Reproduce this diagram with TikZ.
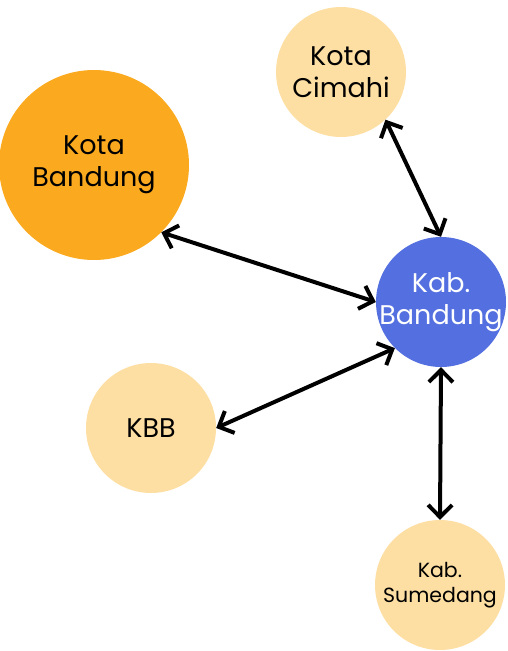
\documentclass[tikz,border=0pt]{standalone}
\usepackage{fontspec}
\setmainfont{Poppins}
\usetikzlibrary{arrows.meta, positioning}
\definecolor{lightorange}{HTML}{FDDFA4}
\definecolor{darkorange}{HTML}{FBAA1F}
\definecolor{kabblue}{HTML}{5470E0}
\begin{document}
\begin{tikzpicture}[x=1pt, y=-1pt,
    region/.style={circle, fill=lightorange, minimum size=130pt, inner sep=-8pt, align=center, font=\fontsize{27}{32}\selectfont},
    link/.style={{Straight Barb[length=12pt, width=24pt]}-{Straight Barb[length=12pt, width=24pt]}, line width=4pt}]
          \useasboundingbox (0,0) rectangle (507,651);
          \node[region] (cimahi) at (341,72) {Kota\\Cimahi};
          \node[region, fill=darkorange, minimum size=190pt] (kotabdg) at (94,165) {Kota\\Bandung};
          \node[region, fill=kabblue, text=white] (kabbdg) at (441,302) {Kab.\\Bandung};
          \node[region] (kbb) at (151,428) {KBB};
          \node[region, font=\fontsize{20.5}{25}\selectfont] (sumedang) at (440,585) {Kab.\\Sumedang};

          \draw[link] (cimahi.-47) -- (kabbdg.north);
          \draw[link] (kotabdg.-45) -- (kabbdg.west);
          \draw[link] (kbb.east) -- (kabbdg.225);
          \draw[link] (kabbdg.south) -- (sumedang.north);
    \end{tikzpicture}
\end{document}
